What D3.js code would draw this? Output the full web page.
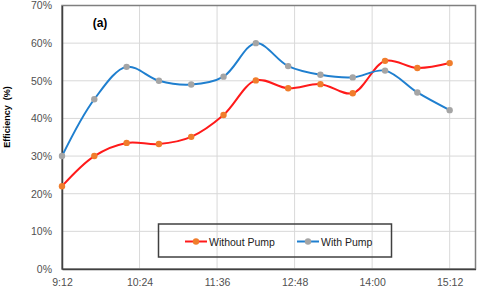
<!DOCTYPE html>
<html><head><meta charset="utf-8">
<script src="https://cdn.jsdelivr.net/npm/d3@7"></script>
<style>body{margin:0;background:#fff}svg{display:block}text{font-family:"Liberation Sans",Arial,sans-serif}</style>
</head><body>
<svg id="c" width="480" height="290"></svg>
<script>
const times = ["9:12","9:42","10:12","10:42","11:12","11:42","12:12","12:42","13:12","13:42","14:12","14:42","15:12"];
const withoutPump = [22.0,30.0,33.5,33.2,35.1,40.9,50.1,48.0,49.1,46.7,55.3,53.4,54.7];
const withPump = [30.0,45.1,53.7,50.0,49.0,51.1,60.0,53.9,51.6,50.9,52.7,46.9,42.2];
const xTicks = ["9:12","10:24","11:36","12:48","14:00","15:12"];
const yTicks = [0,10,20,30,40,50,60,70];

const toMin = s => { const [h,m] = s.split(":").map(Number); return h*60+m; };
const svg = d3.select("#c");
const L = 62, R = 475.5, T = 5.5, B = 269;
const x = d3.scaleLinear().domain([toMin("9:12"), toMin("15:36")]).range([L, R]);
const y = d3.scaleLinear().domain([0, 70]).range([B, T]);

// gridlines
svg.append("g").selectAll("line.h").data(yTicks).join("line")
  .attr("x1", L).attr("x2", R).attr("y1", d => y(d)).attr("y2", d => y(d))
  .attr("stroke", "#d9d9d9").attr("stroke-width", 1);
svg.append("g").selectAll("line.v").data(xTicks).join("line")
  .attr("x1", d => x(toMin(d))).attr("x2", d => x(toMin(d))).attr("y1", T).attr("y2", B)
  .attr("stroke", "#d9d9d9").attr("stroke-width", 1);

// plot border
svg.append("rect").attr("x", L).attr("y", T).attr("width", R - L).attr("height", B - T)
  .attr("fill", "none").attr("stroke", "#7f7f7f").attr("stroke-width", 1.5);

// axes
const yAxis = d3.axisLeft(y).tickValues(yTicks).tickFormat(d => d + "%").tickSize(0).tickPadding(10);
const gy = svg.append("g").attr("transform", `translate(${L},0)`).call(yAxis);
gy.select(".domain").attr("stroke", "#404040").attr("stroke-width", 1.5);
gy.selectAll("text").attr("font-size", 10.5).attr("fill", "#505050");

const xAxis = d3.axisBottom(x).tickValues(xTicks.map(toMin)).tickFormat((d, i) => xTicks[i]).tickSize(0).tickPadding(10);
const gx = svg.append("g").attr("transform", `translate(0,${B})`).call(xAxis);
gx.select(".domain").attr("stroke", "#404040").attr("stroke-width", 1.5);
gx.selectAll("text").attr("font-size", 10.5).attr("fill", "#505050");

// lines
const series = [
  {name: "Without Pump", vals: withoutPump, line: "#ff1a1a", mark: "#f07d2c"},
  {name: "With Pump", vals: withPump, line: "#1f7fcf", mark: "#a5a5a5"}
];
const lineGen = d3.line().x((d, i) => x(toMin(times[i]))).y(d => y(d)).curve(d3.curveCatmullRom.alpha(0.5));
series.forEach(s => {
  svg.append("path").datum(s.vals).attr("d", lineGen).attr("fill", "none")
    .attr("stroke", s.line).attr("stroke-width", 2);
  svg.append("g").selectAll("circle").data(s.vals).join("circle")
    .attr("cx", (d, i) => x(toMin(times[i]))).attr("cy", d => y(d)).attr("r", 3.2)
    .attr("fill", s.mark);
});

// title (a)
svg.append("text").attr("x", 100).attr("y", 27).attr("text-anchor", "middle")
  .attr("font-size", 12).attr("font-weight", "bold").attr("fill", "#000").text("(a)");

// y label
svg.append("text").attr("transform", "translate(10,117) rotate(-90)").attr("text-anchor", "middle")
  .attr("font-size", 9).attr("font-weight", "bold").attr("fill", "#000").attr("xml:space", "preserve")
  .text("Efficiency  (%)");

// legend
const lg = svg.append("g");
lg.append("rect").attr("x", 158.5).attr("y", 224).attr("width", 233).attr("height", 33)
  .attr("fill", "none").attr("stroke", "#404040").attr("stroke-width", 1.5);
const items = [{s: series[0], x0: 185}, {s: series[1], x0: 297}];
items.forEach(it => {
  lg.append("line").attr("x1", it.x0).attr("x2", it.x0 + 22).attr("y1", 241.5).attr("y2", 241.5)
    .attr("stroke", it.s.line).attr("stroke-width", 2);
  lg.append("circle").attr("cx", it.x0 + 11).attr("cy", 241.5).attr("r", 3.2).attr("fill", it.s.mark);
  lg.append("text").attr("x", it.x0 + 24).attr("y", 245.5).attr("font-size", 10.5).attr("fill", "#222")
    .text(it.s.name);
});
</script>
</body></html>
